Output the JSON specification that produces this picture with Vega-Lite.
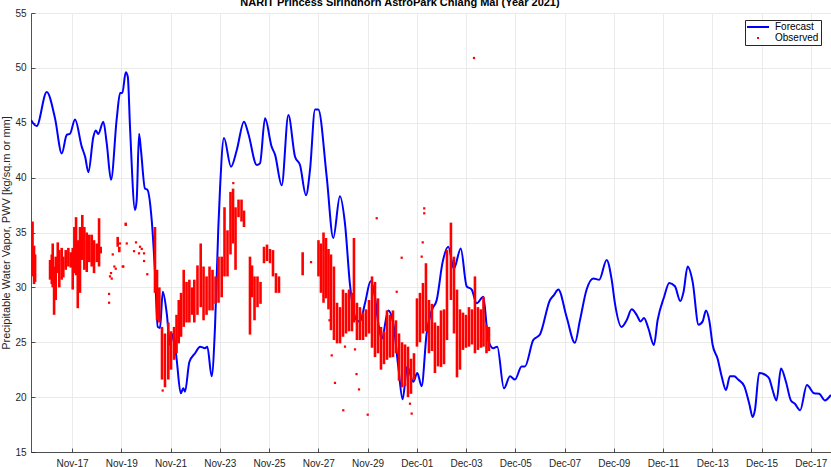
{
  "$schema": "https://vega.github.io/schema/vega-lite/v6.json",
  "autosize": "none",
  "width": 800,
  "height": 439,
  "padding": {"left": 31, "top": 13, "right": 0, "bottom": 15},
  "background": "white",
  "title": {
    "text": "NARIT Princess Sirindhorn AstroPark Chiang Mai (Year 2021)",
    "font": "Liberation Sans",
    "fontSize": 11,
    "fontWeight": "bold",
    "color": "black",
    "anchor": "middle",
    "dx": -31,
    "offset": 0
  },
  "datasets": {
    "forecast": [
      {"time": "2021-11-15T08:00Z", "pwv": 45.25},
      {"time": "2021-11-15T13:30Z", "pwv": 44.7},
      {"time": "2021-11-15T23:20Z", "pwv": 47.8},
      {"time": "2021-11-16T07:25Z", "pwv": 45.4},
      {"time": "2021-11-16T14:00Z", "pwv": 42.2},
      {"time": "2021-11-16T18:50Z", "pwv": 43.9},
      {"time": "2021-11-16T22:00Z", "pwv": 44.0},
      {"time": "2021-11-17T02:55Z", "pwv": 45.3},
      {"time": "2021-11-17T09:30Z", "pwv": 42.8},
      {"time": "2021-11-17T12:45Z", "pwv": 41.9},
      {"time": "2021-11-17T15:55Z", "pwv": 40.5},
      {"time": "2021-11-17T20:45Z", "pwv": 43.7},
      {"time": "2021-11-17T23:05Z", "pwv": 44.3},
      {"time": "2021-11-18T01:35Z", "pwv": 43.97},
      {"time": "2021-11-18T06:30Z", "pwv": 45.1},
      {"time": "2021-11-18T09:50Z", "pwv": 43.1},
      {"time": "2021-11-18T14:00Z", "pwv": 39.8},
      {"time": "2021-11-18T19:35Z", "pwv": 45.4},
      {"time": "2021-11-18T22:50Z", "pwv": 47.7},
      {"time": "2021-11-19T01:00Z", "pwv": 47.7},
      {"time": "2021-11-19T04:20Z", "pwv": 49.6},
      {"time": "2021-11-19T06:20Z", "pwv": 49.2},
      {"time": "2021-11-19T08:30Z", "pwv": 44.6},
      {"time": "2021-11-19T13:25Z", "pwv": 37.05},
      {"time": "2021-11-19T15:00Z", "pwv": 37.95},
      {"time": "2021-11-19T17:20Z", "pwv": 44.0},
      {"time": "2021-11-19T19:10Z", "pwv": 42.5},
      {"time": "2021-11-19T23:05Z", "pwv": 39.0},
      {"time": "2021-11-20T01:25Z", "pwv": 38.9},
      {"time": "2021-11-20T05:40Z", "pwv": 36.1},
      {"time": "2021-11-20T08:55Z", "pwv": 31.3},
      {"time": "2021-11-20T11:30Z", "pwv": 26.4},
      {"time": "2021-11-20T13:45Z", "pwv": 26.3},
      {"time": "2021-11-20T16:25Z", "pwv": 29.6},
      {"time": "2021-11-20T20:20Z", "pwv": 27.6},
      {"time": "2021-11-20T23:30Z", "pwv": 24.75},
      {"time": "2021-11-21T02:45Z", "pwv": 25.8},
      {"time": "2021-11-21T06:00Z", "pwv": 23.4},
      {"time": "2021-11-21T09:55Z", "pwv": 20.35},
      {"time": "2021-11-21T12:25Z", "pwv": 20.8},
      {"time": "2021-11-21T14:05Z", "pwv": 20.5},
      {"time": "2021-11-21T18:20Z", "pwv": 23.2},
      {"time": "2021-11-21T23:55Z", "pwv": 24.0},
      {"time": "2021-11-22T04:45Z", "pwv": 24.6},
      {"time": "2021-11-22T09:35Z", "pwv": 24.45},
      {"time": "2021-11-22T11:50Z", "pwv": 24.6},
      {"time": "2021-11-22T16:05Z", "pwv": 21.9},
      {"time": "2021-11-22T19:20Z", "pwv": 26.4},
      {"time": "2021-11-22T22:35Z", "pwv": 35.5},
      {"time": "2021-11-23T00:10Z", "pwv": 38.9},
      {"time": "2021-11-23T04:05Z", "pwv": 43.6},
      {"time": "2021-11-23T10:55Z", "pwv": 41.0},
      {"time": "2021-11-23T16:30Z", "pwv": 42.5},
      {"time": "2021-11-23T23:35Z", "pwv": 45.1},
      {"time": "2021-11-24T03:50Z", "pwv": 44.0},
      {"time": "2021-11-24T12:00Z", "pwv": 41.15},
      {"time": "2021-11-24T15:10Z", "pwv": 41.3},
      {"time": "2021-11-24T20:05Z", "pwv": 45.4},
      {"time": "2021-11-25T02:35Z", "pwv": 42.8},
      {"time": "2021-11-25T05:50Z", "pwv": 42.1},
      {"time": "2021-11-25T12:20Z", "pwv": 39.3},
      {"time": "2021-11-25T18:50Z", "pwv": 45.7},
      {"time": "2021-11-26T01:20Z", "pwv": 41.9},
      {"time": "2021-11-26T06:10Z", "pwv": 41.15},
      {"time": "2021-11-26T12:00Z", "pwv": 38.4},
      {"time": "2021-11-26T15:55Z", "pwv": 40.7},
      {"time": "2021-11-26T20:50Z", "pwv": 46.2},
      {"time": "2021-11-27T00:00Z", "pwv": 46.2},
      {"time": "2021-11-27T08:10Z", "pwv": 40.1},
      {"time": "2021-11-27T14:35Z", "pwv": 34.5},
      {"time": "2021-11-27T21:05Z", "pwv": 38.3},
      {"time": "2021-11-28T02:00Z", "pwv": 35.8},
      {"time": "2021-11-28T06:55Z", "pwv": 30.2},
      {"time": "2021-11-28T13:25Z", "pwv": 27.0},
      {"time": "2021-11-28T16:35Z", "pwv": 26.9},
      {"time": "2021-11-28T21:30Z", "pwv": 28.55},
      {"time": "2021-11-29T03:00Z", "pwv": 30.55},
      {"time": "2021-11-29T07:10Z", "pwv": 29.15},
      {"time": "2021-11-29T10:30Z", "pwv": 26.7},
      {"time": "2021-11-29T13:50Z", "pwv": 25.3},
      {"time": "2021-11-29T20:10Z", "pwv": 27.9},
      {"time": "2021-11-30T01:05Z", "pwv": 26.7},
      {"time": "2021-11-30T05:55Z", "pwv": 22.8},
      {"time": "2021-11-30T10:10Z", "pwv": 19.8},
      {"time": "2021-11-30T14:40Z", "pwv": 22.8},
      {"time": "2021-11-30T20:35Z", "pwv": 21.4},
      {"time": "2021-12-01T00:30Z", "pwv": 22.2},
      {"time": "2021-12-01T04:40Z", "pwv": 21.0},
      {"time": "2021-12-01T09:35Z", "pwv": 25.8},
      {"time": "2021-12-01T14:30Z", "pwv": 27.9},
      {"time": "2021-12-01T19:25Z", "pwv": 28.85},
      {"time": "2021-12-02T01:10Z", "pwv": 32.3},
      {"time": "2021-12-02T06:40Z", "pwv": 33.7},
      {"time": "2021-12-02T12:10Z", "pwv": 31.7},
      {"time": "2021-12-02T18:50Z", "pwv": 33.55},
      {"time": "2021-12-03T00:35Z", "pwv": 30.1},
      {"time": "2021-12-03T05:30Z", "pwv": 29.8},
      {"time": "2021-12-03T10:20Z", "pwv": 28.55},
      {"time": "2021-12-03T16:50Z", "pwv": 29.15},
      {"time": "2021-12-03T21:35Z", "pwv": 25.2},
      {"time": "2021-12-04T02:30Z", "pwv": 24.45},
      {"time": "2021-12-04T06:25Z", "pwv": 24.6},
      {"time": "2021-12-04T12:55Z", "pwv": 20.8},
      {"time": "2021-12-04T18:50Z", "pwv": 21.9},
      {"time": "2021-12-04T23:40Z", "pwv": 21.6},
      {"time": "2021-12-05T06:10Z", "pwv": 22.8},
      {"time": "2021-12-05T09:25Z", "pwv": 22.8},
      {"time": "2021-12-05T17:30Z", "pwv": 25.2},
      {"time": "2021-12-06T00:00Z", "pwv": 25.7},
      {"time": "2021-12-06T09:50Z", "pwv": 28.85},
      {"time": "2021-12-06T13:40Z", "pwv": 29.3},
      {"time": "2021-12-06T17:55Z", "pwv": 29.8},
      {"time": "2021-12-07T02:00Z", "pwv": 27.3},
      {"time": "2021-12-07T10:05Z", "pwv": 24.96},
      {"time": "2021-12-07T15:00Z", "pwv": 27.0},
      {"time": "2021-12-07T21:30Z", "pwv": 29.8},
      {"time": "2021-12-08T04:00Z", "pwv": 30.8},
      {"time": "2021-12-08T09:50Z", "pwv": 30.7},
      {"time": "2021-12-08T17:00Z", "pwv": 32.5},
      {"time": "2021-12-08T21:55Z", "pwv": 30.7},
      {"time": "2021-12-09T01:05Z", "pwv": 28.55},
      {"time": "2021-12-09T07:35Z", "pwv": 26.4},
      {"time": "2021-12-09T12:30Z", "pwv": 27.0},
      {"time": "2021-12-09T17:25Z", "pwv": 28.0},
      {"time": "2021-12-09T22:15Z", "pwv": 27.5},
      {"time": "2021-12-10T02:05Z", "pwv": 26.9},
      {"time": "2021-12-10T05:25Z", "pwv": 27.2},
      {"time": "2021-12-10T09:35Z", "pwv": 26.3},
      {"time": "2021-12-10T15:05Z", "pwv": 24.75},
      {"time": "2021-12-10T18:40Z", "pwv": 27.0},
      {"time": "2021-12-11T01:05Z", "pwv": 29.15},
      {"time": "2021-12-11T06:00Z", "pwv": 30.4},
      {"time": "2021-12-11T11:35Z", "pwv": 30.1},
      {"time": "2021-12-11T16:45Z", "pwv": 28.75},
      {"time": "2021-12-11T20:00Z", "pwv": 29.6},
      {"time": "2021-12-11T23:55Z", "pwv": 31.9},
      {"time": "2021-12-12T04:50Z", "pwv": 30.5},
      {"time": "2021-12-12T10:35Z", "pwv": 26.6},
      {"time": "2021-12-12T14:35Z", "pwv": 26.9},
      {"time": "2021-12-12T17:50Z", "pwv": 27.9},
      {"time": "2021-12-12T21:00Z", "pwv": 27.0},
      {"time": "2021-12-13T00:20Z", "pwv": 24.75},
      {"time": "2021-12-13T05:10Z", "pwv": 23.5},
      {"time": "2021-12-13T09:05Z", "pwv": 21.9},
      {"time": "2021-12-13T13:20Z", "pwv": 20.65},
      {"time": "2021-12-13T17:10Z", "pwv": 21.9},
      {"time": "2021-12-13T21:20Z", "pwv": 21.9},
      {"time": "2021-12-14T01:10Z", "pwv": 21.6},
      {"time": "2021-12-14T07:05Z", "pwv": 21.0},
      {"time": "2021-12-14T12:00Z", "pwv": 19.4},
      {"time": "2021-12-14T15:20Z", "pwv": 18.2},
      {"time": "2021-12-14T17:30Z", "pwv": 18.8},
      {"time": "2021-12-14T21:40Z", "pwv": 22.2},
      {"time": "2021-12-15T04:10Z", "pwv": 22.0},
      {"time": "2021-12-15T07:25Z", "pwv": 21.7},
      {"time": "2021-12-15T10:45Z", "pwv": 20.65},
      {"time": "2021-12-15T14:35Z", "pwv": 19.7},
      {"time": "2021-12-15T18:55Z", "pwv": 22.6},
      {"time": "2021-12-15T23:45Z", "pwv": 21.4},
      {"time": "2021-12-16T04:35Z", "pwv": 19.7},
      {"time": "2021-12-16T08:30Z", "pwv": 19.4},
      {"time": "2021-12-16T13:35Z", "pwv": 18.8},
      {"time": "2021-12-16T20:10Z", "pwv": 21.1},
      {"time": "2021-12-17T03:15Z", "pwv": 20.35},
      {"time": "2021-12-17T08:10Z", "pwv": 20.3},
      {"time": "2021-12-17T13:40Z", "pwv": 19.7},
      {"time": "2021-12-17T19:35Z", "pwv": 20.2}
    ],
    "observedRange": [
      {"time": "2021-11-15T08:05Z", "low": 31.5, "high": 35.5},
      {"time": "2021-11-15T09:30Z", "low": 31.0, "high": 36.0},
      {"time": "2021-11-15T11:00Z", "low": 30.3, "high": 33.8},
      {"time": "2021-11-15T12:00Z", "low": 30.5, "high": 33.0},
      {"time": "2021-11-16T02:35Z", "low": 30.7, "high": 32.5},
      {"time": "2021-11-16T04:15Z", "low": 30.3, "high": 33.0},
      {"time": "2021-11-16T05:10Z", "low": 30.0, "high": 34.0},
      {"time": "2021-11-16T06:30Z", "low": 27.5, "high": 31.9},
      {"time": "2021-11-16T08:05Z", "low": 28.85, "high": 32.8},
      {"time": "2021-11-16T10:05Z", "low": 31.3, "high": 34.1},
      {"time": "2021-11-16T11:35Z", "low": 30.0, "high": 33.4},
      {"time": "2021-11-16T13:55Z", "low": 30.7, "high": 33.6},
      {"time": "2021-11-16T15:30Z", "low": 30.9, "high": 32.8},
      {"time": "2021-11-16T17:50Z", "low": 31.6, "high": 33.4},
      {"time": "2021-11-16T20:25Z", "low": 31.9, "high": 33.6},
      {"time": "2021-11-16T22:45Z", "low": 31.8, "high": 33.2},
      {"time": "2021-11-17T00:40Z", "low": 29.8, "high": 33.6},
      {"time": "2021-11-17T02:15Z", "low": 31.3, "high": 35.5},
      {"time": "2021-11-17T03:55Z", "low": 31.1, "high": 36.4},
      {"time": "2021-11-17T05:35Z", "low": 28.1, "high": 34.3},
      {"time": "2021-11-17T07:45Z", "low": 29.5, "high": 35.5},
      {"time": "2021-11-17T10:00Z", "low": 32.5, "high": 36.6},
      {"time": "2021-11-17T12:00Z", "low": 31.6, "high": 35.5},
      {"time": "2021-11-17T14:20Z", "low": 31.4, "high": 35.0},
      {"time": "2021-11-17T16:50Z", "low": 32.3, "high": 34.8},
      {"time": "2021-11-17T19:10Z", "low": 31.9, "high": 34.8},
      {"time": "2021-11-17T21:25Z", "low": 31.3, "high": 34.3},
      {"time": "2021-11-18T00:05Z", "low": 32.3, "high": 34.0},
      {"time": "2021-11-18T02:20Z", "low": 31.9, "high": 36.3},
      {"time": "2021-11-18T03:55Z", "low": 33.1, "high": 33.7},
      {"time": "2021-11-18T20:30Z", "low": 33.7, "high": 34.6},
      {"time": "2021-11-18T22:05Z", "low": 33.2, "high": 33.7},
      {"time": "2021-11-19T04:20Z", "low": 35.6, "high": 35.9},
      {"time": "2021-11-20T08:50Z", "low": 29.5, "high": 35.5},
      {"time": "2021-11-20T10:50Z", "low": 27.0, "high": 31.6},
      {"time": "2021-11-20T13:05Z", "low": 26.8, "high": 30.0},
      {"time": "2021-11-20T15:40Z", "low": 21.6, "high": 26.4},
      {"time": "2021-11-20T18:35Z", "low": 20.9, "high": 25.8},
      {"time": "2021-11-20T21:50Z", "low": 21.6, "high": 26.8},
      {"time": "2021-11-21T00:30Z", "low": 22.5, "high": 26.0},
      {"time": "2021-11-21T03:25Z", "low": 23.4, "high": 26.4},
      {"time": "2021-11-21T05:50Z", "low": 24.0, "high": 27.5},
      {"time": "2021-11-21T08:00Z", "low": 24.9, "high": 28.85},
      {"time": "2021-11-21T10:15Z", "low": 25.5, "high": 29.5},
      {"time": "2021-11-21T12:50Z", "low": 26.4, "high": 31.6},
      {"time": "2021-11-21T15:35Z", "low": 26.8, "high": 30.5},
      {"time": "2021-11-21T18:20Z", "low": 26.8, "high": 30.7},
      {"time": "2021-11-21T20:55Z", "low": 27.5, "high": 30.0},
      {"time": "2021-11-21T23:10Z", "low": 26.8, "high": 30.7},
      {"time": "2021-11-22T02:15Z", "low": 27.5, "high": 32.0},
      {"time": "2021-11-22T05:25Z", "low": 28.2, "high": 34.0},
      {"time": "2021-11-22T08:10Z", "low": 27.0, "high": 31.9},
      {"time": "2021-11-22T11:05Z", "low": 27.5, "high": 31.0},
      {"time": "2021-11-22T14:00Z", "low": 27.9, "high": 31.9},
      {"time": "2021-11-22T16:55Z", "low": 27.9, "high": 31.6},
      {"time": "2021-11-22T19:50Z", "low": 28.5, "high": 31.0},
      {"time": "2021-11-22T22:45Z", "low": 28.6, "high": 32.8},
      {"time": "2021-11-23T01:50Z", "low": 29.1, "high": 32.8},
      {"time": "2021-11-23T04:35Z", "low": 31.0, "high": 37.3},
      {"time": "2021-11-23T07:30Z", "low": 31.0, "high": 35.2},
      {"time": "2021-11-23T10:25Z", "low": 33.0, "high": 38.7},
      {"time": "2021-11-23T12:55Z", "low": 34.0, "high": 39.0},
      {"time": "2021-11-23T15:20Z", "low": 31.6, "high": 37.3},
      {"time": "2021-11-23T18:15Z", "low": 36.4, "high": 38.0},
      {"time": "2021-11-23T21:10Z", "low": 36.0, "high": 38.0},
      {"time": "2021-11-23T23:35Z", "low": 35.5, "high": 37.0},
      {"time": "2021-11-24T05:25Z", "low": 25.7, "high": 32.8},
      {"time": "2021-11-24T07:25Z", "low": 29.1, "high": 32.0},
      {"time": "2021-11-24T09:50Z", "low": 27.0, "high": 31.0},
      {"time": "2021-11-24T12:45Z", "low": 28.2, "high": 31.0},
      {"time": "2021-11-24T15:40Z", "low": 28.5, "high": 30.5},
      {"time": "2021-11-24T19:05Z", "low": 32.2, "high": 33.7},
      {"time": "2021-11-24T22:00Z", "low": 32.4, "high": 33.9},
      {"time": "2021-11-25T00:55Z", "low": 32.2, "high": 33.5},
      {"time": "2021-11-25T03:50Z", "low": 31.0, "high": 33.4},
      {"time": "2021-11-25T06:45Z", "low": 29.5, "high": 31.3},
      {"time": "2021-11-25T09:40Z", "low": 29.5, "high": 31.0},
      {"time": "2021-11-26T08:45Z", "low": 31.1, "high": 33.2},
      {"time": "2021-11-27T00:10Z", "low": 31.0, "high": 34.3},
      {"time": "2021-11-27T02:35Z", "low": 29.5, "high": 34.0},
      {"time": "2021-11-27T05:05Z", "low": 28.6, "high": 35.0},
      {"time": "2021-11-27T07:30Z", "low": 29.0, "high": 34.5},
      {"time": "2021-11-27T09:55Z", "low": 28.0, "high": 33.5},
      {"time": "2021-11-27T12:20Z", "low": 26.1, "high": 33.0},
      {"time": "2021-11-27T15:15Z", "low": 25.2, "high": 31.9},
      {"time": "2021-11-27T18:15Z", "low": 24.9, "high": 28.6},
      {"time": "2021-11-27T21:10Z", "low": 24.9, "high": 28.2},
      {"time": "2021-11-28T00:05Z", "low": 25.5, "high": 29.8},
      {"time": "2021-11-28T03:00Z", "low": 25.8, "high": 29.5},
      {"time": "2021-11-28T05:55Z", "low": 26.0, "high": 29.8},
      {"time": "2021-11-28T08:50Z", "low": 26.0, "high": 29.5},
      {"time": "2021-11-28T10:45Z", "low": 26.8, "high": 34.5},
      {"time": "2021-11-28T13:40Z", "low": 25.2, "high": 28.6},
      {"time": "2021-11-28T16:35Z", "low": 25.2, "high": 28.2},
      {"time": "2021-11-28T19:35Z", "low": 25.2, "high": 27.7},
      {"time": "2021-11-28T22:30Z", "low": 25.5, "high": 28.0},
      {"time": "2021-11-29T01:25Z", "low": 25.8, "high": 28.85},
      {"time": "2021-11-29T04:20Z", "low": 24.5, "high": 31.0},
      {"time": "2021-11-29T07:15Z", "low": 23.65, "high": 30.5},
      {"time": "2021-11-29T10:10Z", "low": 24.0, "high": 29.0},
      {"time": "2021-11-29T13:05Z", "low": 22.5, "high": 26.4},
      {"time": "2021-11-29T16:00Z", "low": 23.0, "high": 26.0},
      {"time": "2021-11-29T18:55Z", "low": 23.4, "high": 27.9},
      {"time": "2021-11-29T21:50Z", "low": 23.6, "high": 27.5},
      {"time": "2021-11-30T00:45Z", "low": 23.65, "high": 27.9},
      {"time": "2021-11-30T03:40Z", "low": 24.0, "high": 27.0},
      {"time": "2021-11-30T06:40Z", "low": 21.5, "high": 25.8},
      {"time": "2021-11-30T09:35Z", "low": 20.9, "high": 25.0},
      {"time": "2021-11-30T12:30Z", "low": 21.0, "high": 24.8},
      {"time": "2021-11-30T15:25Z", "low": 20.0, "high": 24.6},
      {"time": "2021-11-30T18:20Z", "low": 20.3, "high": 23.5},
      {"time": "2021-11-30T21:15Z", "low": 21.6, "high": 24.0},
      {"time": "2021-12-01T00:10Z", "low": 24.6, "high": 29.0},
      {"time": "2021-12-01T03:05Z", "low": 25.0, "high": 29.5},
      {"time": "2021-12-01T06:00Z", "low": 25.8, "high": 30.4},
      {"time": "2021-12-01T08:55Z", "low": 26.0, "high": 32.2},
      {"time": "2021-12-01T11:50Z", "low": 24.0, "high": 28.85},
      {"time": "2021-12-01T14:45Z", "low": 24.2, "high": 28.5},
      {"time": "2021-12-01T17:40Z", "low": 22.2, "high": 26.8},
      {"time": "2021-12-01T20:40Z", "low": 22.8, "high": 26.5},
      {"time": "2021-12-01T23:35Z", "low": 22.75, "high": 27.9},
      {"time": "2021-12-02T02:30Z", "low": 23.0, "high": 28.0},
      {"time": "2021-12-02T05:25Z", "low": 25.2, "high": 33.4},
      {"time": "2021-12-02T09:15Z", "low": 28.85, "high": 35.9},
      {"time": "2021-12-02T12:15Z", "low": 25.8, "high": 32.8},
      {"time": "2021-12-02T15:10Z", "low": 21.8, "high": 29.8},
      {"time": "2021-12-02T18:05Z", "low": 22.5, "high": 28.0},
      {"time": "2021-12-02T21:00Z", "low": 24.3, "high": 27.7},
      {"time": "2021-12-02T23:55Z", "low": 24.5, "high": 27.5},
      {"time": "2021-12-03T02:50Z", "low": 24.6, "high": 28.2},
      {"time": "2021-12-03T05:45Z", "low": 24.8, "high": 28.0},
      {"time": "2021-12-03T08:40Z", "low": 24.0, "high": 31.0},
      {"time": "2021-12-03T11:35Z", "low": 24.3, "high": 28.2},
      {"time": "2021-12-03T14:30Z", "low": 24.5, "high": 28.0},
      {"time": "2021-12-03T17:00Z", "low": 24.6, "high": 29.15},
      {"time": "2021-12-03T19:55Z", "low": 24.0, "high": 26.6},
      {"time": "2021-12-03T22:20Z", "low": 24.2, "high": 26.4}
    ],
    "observedPoint": [
      {"time": "2021-11-18T12:05Z", "pwv": 29.4},
      {"time": "2021-11-18T12:05Z", "pwv": 28.6},
      {"time": "2021-11-18T13:00Z", "pwv": 31.0},
      {"time": "2021-11-18T14:00Z", "pwv": 31.3},
      {"time": "2021-11-18T14:40Z", "pwv": 30.8},
      {"time": "2021-11-18T15:40Z", "pwv": 33.0},
      {"time": "2021-11-18T17:15Z", "pwv": 31.9},
      {"time": "2021-11-18T18:35Z", "pwv": 31.7},
      {"time": "2021-11-18T22:45Z", "pwv": 34.0},
      {"time": "2021-11-19T01:25Z", "pwv": 31.9},
      {"time": "2021-11-19T02:00Z", "pwv": 31.9},
      {"time": "2021-11-19T05:20Z", "pwv": 34.0},
      {"time": "2021-11-19T12:25Z", "pwv": 33.3},
      {"time": "2021-11-19T14:20Z", "pwv": 34.1},
      {"time": "2021-11-19T17:15Z", "pwv": 33.1},
      {"time": "2021-11-19T18:15Z", "pwv": 33.7},
      {"time": "2021-11-19T19:55Z", "pwv": 33.5},
      {"time": "2021-11-19T22:10Z", "pwv": 33.1},
      {"time": "2021-11-19T22:10Z", "pwv": 32.4},
      {"time": "2021-11-20T01:20Z", "pwv": 31.2},
      {"time": "2021-11-20T16:20Z", "pwv": 20.6},
      {"time": "2021-11-23T13:10Z", "pwv": 39.5},
      {"time": "2021-11-26T16:55Z", "pwv": 32.3},
      {"time": "2021-11-27T10:55Z", "pwv": 27.0},
      {"time": "2021-11-27T13:05Z", "pwv": 23.8},
      {"time": "2021-11-27T16:15Z", "pwv": 21.3},
      {"time": "2021-11-28T00:20Z", "pwv": 18.8},
      {"time": "2021-11-28T02:00Z", "pwv": 24.6},
      {"time": "2021-11-28T11:45Z", "pwv": 24.35},
      {"time": "2021-11-28T13:15Z", "pwv": 22.1},
      {"time": "2021-11-28T15:40Z", "pwv": 20.7},
      {"time": "2021-11-29T00:10Z", "pwv": 18.4},
      {"time": "2021-11-29T08:55Z", "pwv": 36.3},
      {"time": "2021-11-30T04:25Z", "pwv": 29.6},
      {"time": "2021-11-30T09:15Z", "pwv": 32.7},
      {"time": "2021-11-30T17:20Z", "pwv": 19.4},
      {"time": "2021-11-30T19:00Z", "pwv": 18.5},
      {"time": "2021-12-01T04:45Z", "pwv": 32.8},
      {"time": "2021-12-01T05:45Z", "pwv": 34.1},
      {"time": "2021-12-01T07:15Z", "pwv": 37.2},
      {"time": "2021-12-01T07:15Z", "pwv": 36.75},
      {"time": "2021-12-03T07:45Z", "pwv": 50.9}
    ]
  },
  "encoding": {
    "x": {
      "field": "time",
      "type": "temporal",
      "scale": {
        "type": "utc",
        "domain": [
          {"year": 2021, "month": 11, "date": 15, "hours": 8, "utc": true},
          {"year": 2021, "month": 12, "date": 17, "hours": 19, "minutes": 40, "utc": true}
        ]
      },
      "axis": {
        "title": null,
        "format": "%b-%d",
        "values": [
          {"year": 2021, "month": 11, "date": 17, "utc": true},
          {"year": 2021, "month": 11, "date": 19, "utc": true},
          {"year": 2021, "month": 11, "date": 21, "utc": true},
          {"year": 2021, "month": 11, "date": 23, "utc": true},
          {"year": 2021, "month": 11, "date": 25, "utc": true},
          {"year": 2021, "month": 11, "date": 27, "utc": true},
          {"year": 2021, "month": 11, "date": 29, "utc": true},
          {"year": 2021, "month": 12, "date": 1, "utc": true},
          {"year": 2021, "month": 12, "date": 3, "utc": true},
          {"year": 2021, "month": 12, "date": 5, "utc": true},
          {"year": 2021, "month": 12, "date": 7, "utc": true},
          {"year": 2021, "month": 12, "date": 9, "utc": true},
          {"year": 2021, "month": 12, "date": 11, "utc": true},
          {"year": 2021, "month": 12, "date": 13, "utc": true},
          {"year": 2021, "month": 12, "date": 15, "utc": true},
          {"year": 2021, "month": 12, "date": 17, "utc": true}
        ],
        "labelPadding": 10,
        "labelFlush": false,
        "labelOverlap": false
      }
    }
  },
  "layer": [
    {
      "data": {"name": "forecast"},
      "mark": {"type": "line", "strokeWidth": 2, "interpolate": "monotone", "clip": true},
      "encoding": {
        "y": {
          "field": "pwv",
          "type": "quantitative",
          "scale": {"domain": [15, 55], "nice": false, "zero": false},
          "axis": {
            "title": "Precipitable Water Vapor, PWV [kg/sq.m or mm]",
            "values": [15, 20, 25, 30, 35, 40, 45, 50, 55],
            "labelPadding": 9,
            "titlePadding": 3
          }
        },
        "color": {
          "datum": "Forecast",
          "type": "nominal",
          "scale": {"domain": ["Forecast", "Observed"], "range": ["#0000ff", "#ff0000"]},
          "legend": {
            "title": null,
            "orient": "none",
            "legendX": 714,
            "legendY": 7,
            "strokeColor": "#262626",
            "fillColor": "white",
            "padding": 2,
            "rowPadding": 1,
            "symbolSize": 54,
            "symbolOffset": 6,
            "labelOffset": 12,
            "labelFont": "Liberation Sans",
            "labelFontSize": 10,
            "labelColor": "black",
            "encode": {
              "symbols": {
                "update": {
                  "shape": {"signal": "datum.value === 'Forecast' ? 'M-3,0H3' : 'square'"},
                  "size": {"signal": "datum.value === 'Forecast' ? 54 : 4"},
                  "fill": {"signal": "datum.value === 'Forecast' ? 'transparent' : '#ff0000'"},
                  "stroke": {"signal": "datum.value === 'Forecast' ? '#0000ff' : 'transparent'"},
                  "strokeWidth": {"signal": "datum.value === 'Forecast' ? 2 : 0"}
                }
              }
            }
          }
        }
      }
    },
    {
      "data": {"name": "observedRange"},
      "mark": {"type": "rule", "strokeWidth": 2.6, "clip": true},
      "encoding": {
        "y": {"field": "low", "type": "quantitative"},
        "y2": {"field": "high"},
        "color": {"datum": "Observed", "type": "nominal"}
      }
    },
    {
      "data": {"name": "observedPoint"},
      "mark": {"type": "square", "size": 5, "opacity": 1, "clip": true},
      "encoding": {
        "y": {"field": "pwv", "type": "quantitative"},
        "color": {"datum": "Observed", "type": "nominal"}
      }
    }
  ],
  "config": {
    "view": {"stroke": null},
    "axis": {
      "labelFont": "Liberation Sans",
      "labelFontSize": 10,
      "labelColor": "#262626",
      "titleFont": "Liberation Sans",
      "titleFontSize": 11,
      "titleFontWeight": "normal",
      "titleColor": "#262626",
      "domainColor": "#262626",
      "domainWidth": 0.8,
      "tickColor": "#262626",
      "tickWidth": 0.8,
      "tickSize": -4,
      "grid": true,
      "gridColor": "#e6e6e6",
      "gridWidth": 0.8
    }
  }
}
